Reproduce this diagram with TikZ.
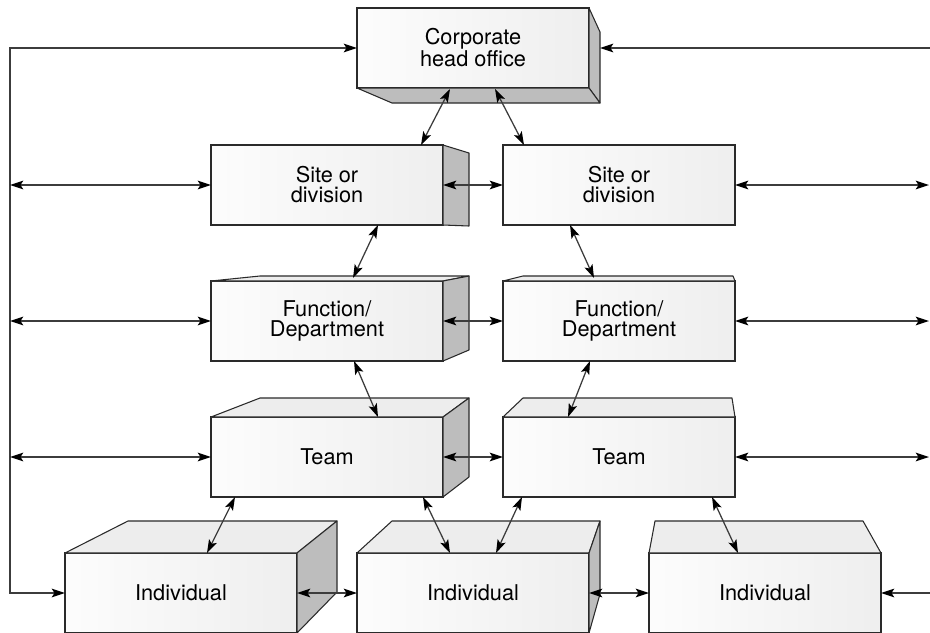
\documentclass[tikz,border=0pt]{standalone}
\usepackage{fontspec}
\setmainfont{TeX Gyre Heros}
\usetikzlibrary{arrows.meta,calc}
\definecolor{edge}{HTML}{2A2A2A}
\definecolor{sidegray}{HTML}{BDBDBD}
\definecolor{topgray}{HTML}{EDEDED}
\definecolor{linkgray}{HTML}{3C3C3C}
\tikzset{
  front/.style={draw=edge, line width=0.8pt, minimum width=174pt, minimum height=60pt,
    inner sep=0pt, outer sep=0pt, align=center, left color=gray!2, right color=gray!13,
    font=\fontsize{16.3}{15}\selectfont},
  sideface/.style={draw=edge, line width=0.8pt, fill=sidegray, line join=round},
  topface/.style={draw=edge, line width=0.8pt, fill=topgray, line join=round},
  tip/.tip={Stealth[length=10pt,width=6.5pt,inset=2.2pt,color=black]},
  link/.style={draw=linkgray, line width=0.95pt, tip-tip},
  linkto/.style={draw=linkgray, line width=0.95pt, -tip},
}
\begin{document}
\begin{tikzpicture}[x=0.75pt,y=-0.75pt]
\useasboundingbox (0,0) rectangle (930,632);

% front faces of the blocks
\node[front] (ho)  at (473,48)  {Corporate\\head office};
\node[front] (sdl) at (327,185) {Site or\\division};
\node[front] (sdr) at (619,185) {Site or\\division};
\node[front] (fdl) at (327,321) {Function/\\Department};
\node[front] (fdr) at (619,321) {Function/\\Department};
\node[front] (tl)  at (327,457) {Team};
\node[front] (tr)  at (619,457) {Team};
\node[front] (il)  at (181,593) {Individual};
\node[front] (im)  at (473,593) {Individual};
\node[front] (ir)  at (765,593) {Individual};

% head office: right and bottom faces
\path[sideface] (ho.north east) -- ++(11,24) -- ++(0,71) -- (ho.south east) -- cycle;
\path[sideface] (ho.south west) -- (ho.south east) -- ++(11,15) -- ++(-208,0) -- cycle;

% site or division
\path[sideface] (sdl.north east) -- ++(26,8) -- ++(0,73) -- (sdl.south east) -- cycle;

% function / department
\path[topface] (fdl.north west) -- ++(49,-5) -- ++(209,0) -- (fdl.north east) -- cycle;
\path[sideface] (fdl.north east) -- ++(26,-5) -- ++(0,74) -- (fdl.south east) -- cycle;
\path[topface] (fdr.north west) -- ++(20,-5) -- ++(210,0) -- (fdr.north east) -- cycle;

% teams
\path[topface] (tl.north west) -- ++(49,-19) -- ++(209,0) -- (tl.north east) -- cycle;
\path[sideface] (tl.north east) -- ++(26,-19) -- ++(0,79) -- (tl.south east) -- cycle;
\path[topface] (tr.north west) -- ++(20,-19) -- ++(209,0) -- (tr.north east) -- cycle;

% individuals
\path[topface] (il.north west) -- ++(63,-32) -- ++(209,0) -- (il.north east) -- cycle;
\path[sideface] (il.north east) -- ++(40,-32) -- ++(0,71) -- (il.south east) -- cycle;
\path[topface] (im.north west) -- ++(35,-32) -- ++(208,0) -- (im.north east) -- cycle;
\path[sideface] (im.north east) -- ++(11,-32) -- ++(0,73) -- (im.south east) -- cycle;
\path[topface] (ir.north west) -- ++(6,-32) -- ++(208,0) -- (ir.north east) -- cycle;

% outer feedback lines
\coordinate (bt) at (10,48);
\coordinate (bb) at (10,593);
\coordinate (rt) at (930,48);
\coordinate (re) at (929,0);
\draw[link] (ho.west) -- (bt) -- (bb) -- (il.west);
\draw[linkto] (rt) -- ($(ho.east)+(11,0)$);
\foreach \b in {sdl,fdl,tl} \draw[link] (\b.west -| bt) -- (\b.west);
\foreach \b in {sdr,fdr,tr} \draw[link] (\b.east) -- (\b.east -| re);
\draw[linkto] (ir.east -| rt) -- (ir.east);

% links within a level
\draw[link] (sdl.east) -- (sdr.west);
\draw[link] (fdl.east) -- (fdr.west);
\draw[link] (tl.east) -- (tr.west);
\draw[link] (il.east) -- (im.west);
\draw[link] (im.east) -- (ir.west);

% links between levels
\draw[link] ($(ho.south)+(-23,1)$) -- ($(sdl.north)+(94,0)$);
\draw[link] ($(ho.south)+(22,1)$) -- ($(sdr.north)+(-95,0)$);
\draw[link] ($(sdl.south)+(51,0)$) -- ($(fdl.north)+(26,-3)$);
\draw[link] ($(sdr.south)+(-49,0)$) -- ($(fdr.north)+(-25,-3)$);
\draw[link] ($(fdl.south)+(27,0)$) -- ($(tl.north)+(51,0)$);
\draw[link] ($(fdr.south)+(-29,0)$) -- ($(tr.north)+(-51,0)$);
\draw[link] ($(tl.south)+(-92,0)$) -- ($(il.north)+(26,0)$);
\draw[link] ($(tl.south)+(96,0)$) -- ($(im.north)+(-23,0)$);
\draw[link] ($(tr.south)+(-97,0)$) -- ($(im.north)+(23,0)$);
\draw[link] ($(tr.south)+(93,0)$) -- ($(ir.north)+(-27,0)$);
\end{tikzpicture}
\end{document}
